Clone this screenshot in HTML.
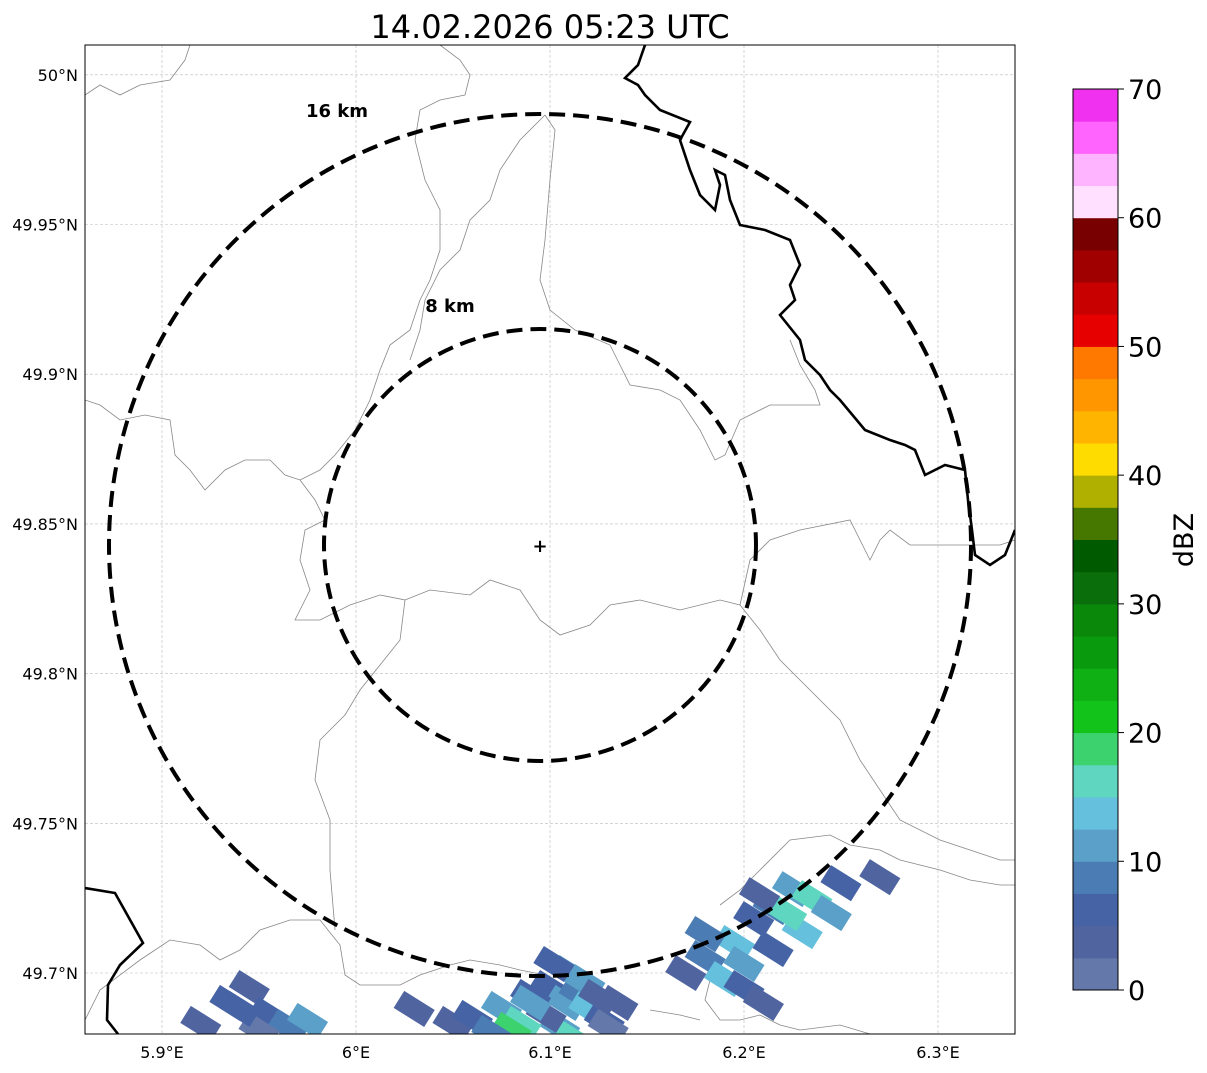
<!DOCTYPE html>
<html><head><meta charset="utf-8">
<style>
body{margin:0;background:#fff;font-family:"DejaVu Sans","Liberation Sans",sans-serif;}
</style></head>
<body>
<svg id="chart" width="1207" height="1069" xmlns="http://www.w3.org/2000/svg" font-family="DejaVu Sans, Liberation Sans, sans-serif">
<text x="550" y="38" font-size="32" text-anchor="middle">14.02.2026 05:23 UTC</text>
<defs><clipPath id="mapclip"><rect x="85" y="45" width="930" height="989"/></clipPath></defs>
<g id="grid"></g>
<g clip-path="url(#mapclip)">
<g fill="none" stroke="#888" stroke-width="0.8">
<path d="M85,95 L100,85 120,95 140,85 170,80 185,60 190,45"/>
<path d="M440,45 L460,60 470,75 465,95 440,100 420,110 415,140 425,180 440,210 440,250 430,280 420,300 410,330 390,345 380,370 370,400 355,430 335,455 320,470 300,480 285,475 270,460 245,460 225,470 205,490 190,470 175,455 170,420 145,415 120,420 100,405 85,400"/>
<path d="M545,115 L555,130 550,180 545,240 540,280 550,310 575,330 610,345 620,365 630,385 660,390 680,400 700,430 715,460 725,455 740,420 770,405 820,405 815,390 800,365 790,340"/>
<path d="M545,115 L520,140 500,170 490,200 470,220 460,250 440,270 425,300 420,330 410,360"/>
<path d="M325,520 L305,530 300,560 310,590 295,620 320,620 350,605 380,595 405,600 400,640 380,665 360,690 345,715 320,740 315,780 330,820 330,870 335,930"/>
<path d="M300,480 L315,500 325,520"/>
<path d="M405,600 L430,590 470,595 490,580 520,590 540,620 560,635 590,625 610,605 640,600 680,610 720,600 740,605 760,630 780,660 810,690 840,720 860,760 880,790 900,820 940,840 970,850 1000,860 1015,860"/>
<path d="M740,605 L750,560 770,540 800,530 850,520 870,560 880,540 890,530 910,545 960,545 1000,545 1015,540"/>
<path d="M85,1020 L100,990 140,960 170,940 200,945 220,960 240,950 260,930 290,920 320,920 340,945 345,975 360,985 400,985 420,975 450,965 470,960 500,965 520,970 545,975"/>
<path d="M720,905 L740,890 760,870 790,840 830,835 850,845 880,850 900,860 940,870 970,880 1000,885 1015,885"/>
<path d="M700,940 L710,980 705,1000 720,1020 740,1020 760,1015 780,1025 800,1030 840,1025 870,1034"/>
<path d="M650,1010 L680,1015 700,1020"/>
</g>
<g fill="none" stroke="#000" stroke-width="2.6">
<path d="M645,45 L638,65 625,78 638,85 645,95 660,110 690,122 680,140 690,170 700,195 715,210 720,185 715,170 725,175 730,200 740,225 765,230 790,240 800,265 790,285 795,300 780,315 800,340 805,360 820,375 830,390 840,400 865,430 890,440 905,445 915,450 925,475 945,465 965,470 968,500 972,530 975,555 990,565 1005,555 1015,530"/>
<path d="M85,888 L115,893 143,943 120,965 108,985 107,1020 118,1034"/>
</g>
<g id="cells"></g>
<circle cx="540" cy="545" r="216" fill="none" stroke="#000" stroke-width="4" stroke-dasharray="16,8"/>
<circle cx="540" cy="545" r="431" fill="none" stroke="#000" stroke-width="4" stroke-dasharray="16,8"/>
</g>
<text x="337" y="117" font-size="18" font-weight="bold" text-anchor="middle">16 km</text>
<text x="450" y="312" font-size="18" font-weight="bold" text-anchor="middle">8 km</text>
<text x="540" y="552" font-size="18" font-weight="bold" text-anchor="middle">+</text>
<rect x="85" y="45" width="930" height="989" fill="none" stroke="#000" stroke-width="1"/>
<g id="axes" font-size="16"></g>
<g id="cbar"></g>
<text x="1193" y="540" font-size="27" text-anchor="middle" transform="rotate(-90 1193 540)">dBZ</text>
</svg>
<script>
const lonTicks=[5.9,6.0,6.1,6.2,6.3];
const lonLabels=["5.9°E","6°E","6.1°E","6.2°E","6.3°E"];
const latTicks=[50,49.95,49.9,49.85,49.8,49.75,49.7];
const latLabels=["50°N","49.95°N","49.9°N","49.85°N","49.8°N","49.75°N","49.7°N"];
const lons=[6.100,6.108,6.115,6.120,6.128,6.105,6.112,6.098,6.118,6.125,6.090,6.135,6.130,6.110,6.102,5.920,5.935,5.945,5.955,5.965,5.975,5.950,5.940,6.030,6.050,6.060,6.075,6.085,6.090,6.080,6.070,6.180,6.190,6.200,6.195,6.205,6.215,6.225,6.235,6.245,6.230,6.215,6.250,6.210,6.170,6.270,6.180,6.200,6.222,6.208];
const lats=[49.695,49.690,49.693,49.688,49.684,49.682,49.678,49.686,49.697,49.692,49.692,49.690,49.682,49.700,49.703,49.683,49.690,49.695,49.686,49.682,49.684,49.681,49.688,49.688,49.683,49.685,49.688,49.683,49.690,49.681,49.680,49.705,49.698,49.695,49.710,49.718,49.722,49.728,49.725,49.720,49.714,49.708,49.730,49.690,49.700,49.732,49.713,49.703,49.720,49.726];
const dbz=[5,12,8,14,6,10,16,3,12,4,7,3,2,11,5,3,5,4,6,8,12,2,5,4,3,6,10,16,12,18,9,8,14,6,14,5,8,12,16,11,13,7,6,3,4,4,9,12,15,4];
const cbLevels=[0,10,20,30,40,50,60,70];
const cbColors=["#6478aa","#5064a0","#4664a5","#4b7db4","#5aa0c8","#64c0dc","#5fd6c0","#3cd26e","#12c41a","#0eb014","#0a9a0e","#0a880a","#0a6e0a","#005a00","#467800","#b0b000","#ffdc00","#ffb400","#ff9600","#ff7800","#e60000","#c80000","#a00000","#780000","#ffe0ff","#ffb4ff","#ff64ff","#f032f0"];
const NS="http://www.w3.org/2000/svg";
const xS=lon=>162+(lon-5.9)*1940;
const yS=lat=>973-(lat-49.7)*2994;
const cbY=v=>990-v/70*901;
function mk(tag,attrs,parent){const e=document.createElementNS(NS,tag);for(const k in attrs)e.setAttribute(k,attrs[k]);parent.appendChild(e);return e;}
const grid=document.getElementById('grid'),axes=document.getElementById('axes');
lonTicks.forEach((t,i)=>{const x=xS(t);
 const l=mk('line',{x1:x,x2:x,y1:45,y2:1034,stroke:'#bbb','stroke-width':0.6,'stroke-dasharray':'3,2'},grid);
 
 
 const tx=mk('text',{x:x,y:1058,'text-anchor':'middle'},axes);tx.textContent=lonLabels[i];
 
 });
latTicks.forEach((t,i)=>{const y=yS(t);
 const l=mk('line',{x1:85,x2:1015,y1:y,y2:y,stroke:'#bbb','stroke-width':0.6,'stroke-dasharray':'3,2'},grid);
 
 
 const tx=mk('text',{x:78,y:y+6,'text-anchor':'end'},axes);tx.textContent=latLabels[i];
 
 });
function colorFor(v){return cbColors[Math.max(0,Math.min(cbColors.length-1,Math.floor(v/2.5)))];}
const cells=document.getElementById('cells');
lons.forEach((lo,i)=>{const x=xS(lo),y=yS(lats[i]);
 const r=mk('rect',{x:x-18,y:y-10,width:36,height:20,fill:colorFor(dbz[i]),transform:`rotate(32 ${x} ${y})`},cells);
 
 });
const cb=document.getElementById('cbar');
for(let i=0;i<28;i++){const y1=cbY((i+1)*2.5),y0=cbY(i*2.5);
 const r=mk('rect',{x:1073,y:y1,width:45,height:y0-y1+0.5,fill:cbColors[i]},cb);
 
 }
const fr=mk('rect',{x:1073,y:89,width:45,height:901,fill:'none',stroke:'#000','stroke-width':1},cb);


cbLevels.forEach(v=>{const y=cbY(v);
 mk('line',{x1:1118,x2:1124,y1:y,y2:y,stroke:'#000'},cb);
 const t=mk('text',{x:1128,y:y+10,'font-size':27},cb);t.textContent=v;
 
 });
</script>
</body></html>
